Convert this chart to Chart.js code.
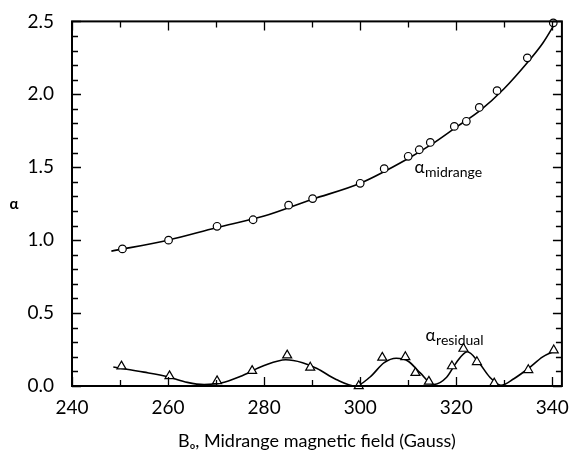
<!DOCTYPE html>
<html>
<head>
<meta charset="utf-8">
<script src="https://cdn.jsdelivr.net/npm/chart.js@4.4.1/dist/chart.umd.min.js"></script>
<style>
  html, body { margin: 0; padding: 0; background: #ffffff; }
  #wrap { width: 571px; height: 452px; }
</style>
</head>
<body>
<div id="wrap"><canvas id="c" width="571" height="452"></canvas></div>
<script>
// ---- data ----
const xTicks = [240, 260, 280, 300, 320, 340];
const yTicks = [0, 0.5, 1.0, 1.5, 2.0, 2.5];

// alpha_midrange measured points (circles)
const midField = [250.5, 260.1, 270.2, 277.7, 285.1, 290.1, 300.0, 305.0, 310.0, 312.3, 314.6, 319.6, 322.1, 324.8, 328.5, 334.8, 340.2];
const midAlpha = [0.94, 1.00, 1.095, 1.14, 1.24, 1.285, 1.39, 1.49, 1.575, 1.62, 1.67, 1.78, 1.815, 1.91, 2.025, 2.25, 2.49];

// alpha_midrange fitted curve
const midCurveField = [248.2, 260, 270, 280, 290, 300, 310, 315, 320, 325, 330, 335, 338, 340.8];
const midCurveAlpha = [0.925, 1.0, 1.085, 1.165, 1.28, 1.39, 1.56, 1.66, 1.775, 1.89, 2.04, 2.225, 2.35, 2.5];

// alpha_residual measured points (triangles)
const resField = [250.3, 260.3, 270.2, 277.5, 284.8, 289.6, 299.7, 304.6, 309.4, 311.5, 314.3, 319.1, 321.5, 324.3, 327.9, 335.0, 340.3];
const resAlpha = [0.135, 0.068, 0.034, 0.104, 0.21, 0.127, 0.0, 0.195, 0.199, 0.09, 0.03, 0.136, 0.256, 0.165, 0.018, 0.11, 0.245];

// alpha_residual fitted curve
const resCurveField = [248.6, 255, 260, 264, 267.5, 271, 275, 280, 284.5, 288, 291, 295, 299, 302, 305, 307.5, 310, 312.5, 315.3, 318, 320, 322.3, 324.5, 327, 329.3, 332, 335, 338, 340.5];
const resCurveAlpha = [0.13, 0.095, 0.063, 0.025, 0.01, 0.02, 0.065, 0.14, 0.18, 0.16, 0.12, 0.045, 0.0, 0.06, 0.16, 0.19, 0.17, 0.09, 0.01, 0.06, 0.16, 0.235, 0.17, 0.06, 0.005, 0.05, 0.12, 0.2, 0.24];

const xTitle = 'Bₒ, Midrange magnetic field (Gauss)';
const yTitle = 'α';

// ---- helpers ----
const pts = (xs, ys) => xs.map((x, i) => ({ x: x, y: ys[i] }));
const FONT = "Lato, 'Open Sans', 'DejaVu Sans', sans-serif";

const framePlugin = {
  id: 'frame',
  afterDraw(chart) {
    const { ctx, chartArea: a, scales: { x, y } } = chart;
    ctx.save();
    ctx.strokeStyle = '#000';
    ctx.lineWidth = 2;
    ctx.strokeRect(a.left, a.top, a.right - a.left, a.bottom - a.top);
    ctx.lineWidth = 1.3;
    ctx.beginPath();
    // x ticks every 10 (major at 20), inward on top and bottom
    for (let v = 240; v <= 340; v += 10) {
      const px = Math.round(x.getPixelForValue(v)) + 0.5;
      const len = (v % 20 === 0) ? 9 : 6;
      ctx.moveTo(px, a.top); ctx.lineTo(px, a.top + len);
      ctx.moveTo(px, a.bottom); ctx.lineTo(px, a.bottom - len);
    }
    // y ticks every 0.1 (major at 0.5), inward on left and right
    for (let i = 0; i <= 25; i++) {
      const v = i / 10;
      const py = Math.round(y.getPixelForValue(v)) + 0.5;
      const len = (i % 5 === 0) ? 9 : 6;
      ctx.moveTo(a.left, py); ctx.lineTo(a.left + len, py);
      ctx.moveTo(a.right, py); ctx.lineTo(a.right - len, py);
    }
    ctx.stroke();

    // y axis title (alpha, unrotated)
    ctx.fillStyle = '#000';
    ctx.font = "bold 15px " + FONT;
    ctx.textAlign = 'center';
    ctx.textBaseline = 'middle';
    ctx.fillText(yTitle, 14, (a.top + a.bottom) / 2);

    // series labels with subscripts
    const label = (gx, gy, sub) => {
      const px = x.getPixelForValue(gx), py = y.getPixelForValue(gy);
      ctx.textAlign = 'left';
      ctx.textBaseline = 'alphabetic';
      ctx.font = "17px " + FONT;
      ctx.fillText('α', px, py);
      const w = ctx.measureText('α').width;
      ctx.font = "14px " + FONT;
      ctx.fillText(sub, px + w + 0.5, py + 4);
    };
    label(311.3, 1.46, 'midrange');
    label(313.6, 0.31, 'residual');
    ctx.restore();
  }
};

new Chart(document.getElementById('c'), {
  type: 'line',
  data: {
    datasets: [
      {
        label: 'α midrange',
        data: pts(midField, midAlpha),
        showLine: false,
        pointStyle: 'circle',
        pointRadius: 3.8,
        pointBorderWidth: 1.2,
        pointBorderColor: '#000',
        pointBackgroundColor: '#fff',
        order: 0,
        clip: false
      },
      {
        label: 'α residual',
        data: pts(resField, resAlpha),
        showLine: false,
        pointStyle: 'triangle',
        pointRadius: 5.2,
        pointBorderWidth: 1.2,
        pointBorderColor: '#000',
        pointBackgroundColor: '#fff',
        order: 0,
        clip: false
      },
      {
        label: 'midrange fit',
        data: pts(midCurveField, midCurveAlpha),
        borderColor: '#000',
        borderWidth: 1.6,
        pointRadius: 0,
        cubicInterpolationMode: 'monotone',
        fill: false,
        order: 1,
        clip: false
      },
      {
        label: 'residual fit',
        data: pts(resCurveField, resCurveAlpha),
        borderColor: '#000',
        borderWidth: 1.6,
        pointRadius: 0,
        cubicInterpolationMode: 'monotone',
        fill: false,
        order: 1,
        clip: false
      }
    ]
  },
  options: {
    responsive: false,
    animation: false,
    devicePixelRatio: 1,
    layout: { padding: { top: 17, right: 8, left: 0, bottom: 0 } },
    plugins: { legend: { display: false }, tooltip: { enabled: false } },
    scales: {
      x: {
        type: 'linear',
        min: 240,
        max: 342,
        afterBuildTicks: s => { s.ticks = xTicks.map(v => ({ value: v })); },
        afterFit: s => { s.height = 66; },
        grid: { display: false },
        border: { display: false },
        ticks: {
          color: '#000',
          font: { family: FONT, size: 19 },
          padding: 2,
          maxRotation: 0,
          autoSkip: false,
          callback: v => String(v)
        },
        title: {
          display: true,
          text: xTitle,
          color: '#000',
          font: { family: FONT, size: 18, lineHeight: 1.2 },
          padding: { top: 0, bottom: 0 }
        }
      },
      y: {
        type: 'linear',
        min: 0,
        max: 2.5,
        afterBuildTicks: s => { s.ticks = yTicks.map(v => ({ value: v })); },
        afterFit: s => { s.width = 72; },
        grid: { display: false },
        border: { display: false },
        ticks: {
          color: '#000',
          font: { family: FONT, size: 19 },
          padding: 10,
          autoSkip: false,
          callback: v => Number(v).toFixed(1)
        }
      }
    }
  },
  plugins: [framePlugin]
});
</script>
</body>
</html>
